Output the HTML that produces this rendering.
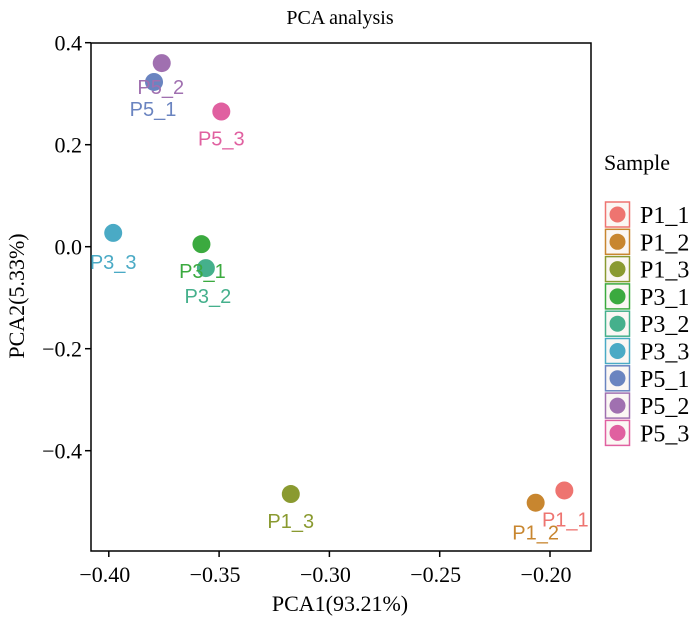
<!DOCTYPE html>
<html><head><meta charset="utf-8"><style>
body{margin:0;background:#fff;width:700px;height:621px;overflow:hidden}
svg text{font-family:"Liberation Serif",serif}
.lbl{font-family:"Liberation Sans",sans-serif;font-size:20px}
</style></head><body>
<svg id="chart" width="700" height="621">
<text x="340" y="24" text-anchor="middle" font-size="20">PCA analysis</text>
<text x="340" y="611" text-anchor="middle" font-size="22">PCA1(93.21%)</text>
<text transform="translate(24,296) rotate(-90)" text-anchor="middle" font-size="22">PCA2(5.33%)</text>
<rect x="91" y="43" width="500" height="508" fill="none" stroke="#000" stroke-width="1.5"/>
<g id="axes"></g><g id="pts"></g><g id="legend"></g>
</svg>
<script>
const samples=["P1_1","P1_2","P1_3","P3_1","P3_2","P3_3","P5_1","P5_2","P5_3"];
const pc1=[-0.1935,-0.2065,-0.3175,-0.358,-0.356,-0.398,-0.3795,-0.376,-0.349];
const pc2=[-0.478,-0.502,-0.485,0.005,-0.042,0.027,0.323,0.360,0.265];
const colors=["#EE7470","#C8862F","#8A9A30","#3BAA3F","#45B08C","#4AAAC5","#6A84C0","#A070B0","#E060A0"];
const xTicks=[-0.40,-0.35,-0.30,-0.25,-0.20];
const xTickLabels=["\u22120.40","\u22120.35","\u22120.30","\u22120.25","\u22120.20"];
const yTicks=[0.4,0.2,0.0,-0.2,-0.4];
const yTickLabels=["0.4","0.2","0.0","\u22120.2","\u22120.4"];
const lblDx=[1,0,0,1,2,0,-1,-1,0];
const lblDy=[36,37,34,34,35,36,34,31,34];
const X=v=>550+(v+0.2)*2206;
const Y=v=>246.7-v*510;
const NS="http://www.w3.org/2000/svg";
function mk(t,a,p){const e=document.createElementNS(NS,t);for(const k in a)e.setAttribute(k,a[k]);p.appendChild(e);return e;}
const ax=document.getElementById('axes');
xTicks.forEach((v,i)=>{
 const l=mk('line',{x1:X(v),x2:X(v),y1:551,y2:557,stroke:'#000','stroke-width':1.5},ax);
 
 
 const t=mk('text',{x:X(v)-4,y:582,'text-anchor':'middle','font-size':22},ax);t.textContent=xTickLabels[i];
 
 
});
yTicks.forEach((v,i)=>{
 const l=mk('line',{x1:85,x2:91,y1:Y(v),y2:Y(v),stroke:'#000','stroke-width':1.5},ax);
 
 
 const t=mk('text',{x:82,y:Y(v)+8,'text-anchor':'end','font-size':22},ax);t.textContent=yTickLabels[i];
 
 
});
const pg=document.getElementById('pts');
samples.forEach((s,i)=>{
 const c=mk('circle',{cx:X(pc1[i]),cy:Y(pc2[i]),r:9,fill:colors[i]},pg);
 
 
});
samples.forEach((s,i)=>{
 const t=mk('text',{x:X(pc1[i])+lblDx[i],y:Y(pc2[i])+lblDy[i],'text-anchor':'middle',fill:colors[i],class:'lbl'},pg);
 t.textContent=s;
 
 
});
const lg=document.getElementById('legend');
const tt=mk('text',{x:604,y:170,'font-size':22},lg);tt.textContent='Sample';


samples.forEach((s,i)=>{
 const y0=202+i*27.3;
 const g=mk('g',{},lg);
 
 
 mk('rect',{x:605.5,y:y0,width:24,height:25,fill:'#fbf7f4',stroke:colors[i],'stroke-width':1.5},g);
 mk('circle',{cx:617.5,cy:y0+12.5,r:8,fill:colors[i]},g);
 const t=mk('text',{x:640,y:y0+21,'font-size':24},g);t.textContent=s;
});
</script>
</body></html>
